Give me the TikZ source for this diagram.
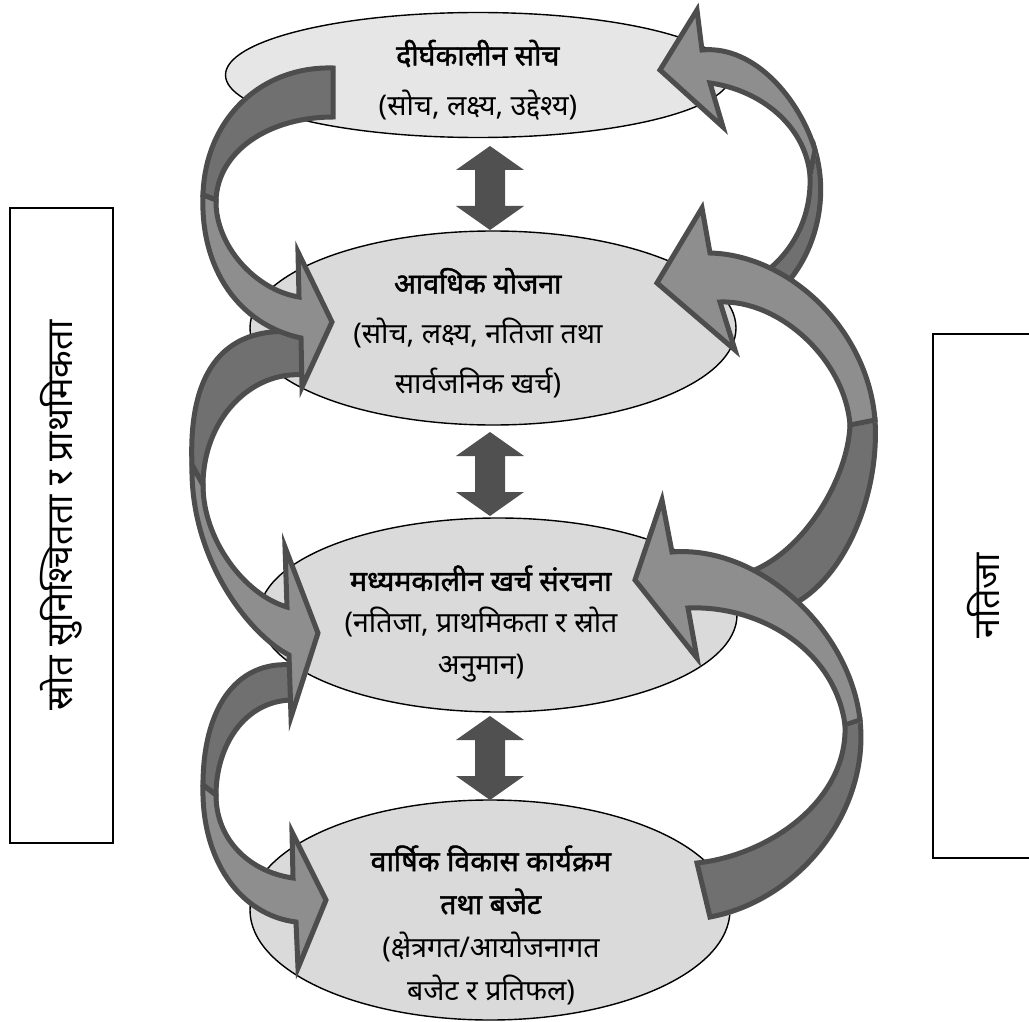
\documentclass[tikz,border=0pt]{standalone}
\usepackage{fontspec}
\newfontfamily\deva[Script=Devanagari, BoldFont={Noto Sans}, BoldFeatures={FakeBold=1.6}]{Noto Sans}
\usetikzlibrary{shapes.geometric,shadows}

\definecolor{topfill}{HTML}{E6E6E6}
\definecolor{ovalfill}{HTML}{DADADA}
\definecolor{ribbonlight}{HTML}{8E8E8E}
\definecolor{ribbondark}{HTML}{707070}
\definecolor{ribbonedge}{HTML}{4D4D4D}
\definecolor{linkgray}{HTML}{505050}

\tikzset{
  oval/.style={draw, ellipse, line width=1.4pt, fill=ovalfill, inner sep=0pt},
  caption/.style={font=\deva\fontsize{28.5}{50}\selectfont, align=center, inner sep=0pt},
  sidebox/.style={draw, line width=1.2pt, inner sep=0pt},
  sidetext/.style={font=\deva\fontsize{36}{40}\selectfont, rotate=90, inner sep=0pt},
  ribbon/.style={draw=ribbonedge, line width=5pt, line join=miter, miter limit=12,
    drop shadow={shadow xshift=2pt, shadow yshift=-2pt, fill=gray!55, opacity=1}},
  ribbonback/.style={ribbon, fill=ribbondark},
  ribbonfront/.style={ribbon, fill=ribbonlight}
}

% two way link between two levels
\newcommand{\updown}[1]{\fill[linkgray] (#1) -- ++(34,24) -- ++(-19,0) -- ++(0,36)
  -- ++(19,0) -- ++(-34,24) -- ++(-34,-24) -- ++(19,0) -- ++(0,-36) -- ++(-19,0) -- cycle;}

\begin{document}
\begin{tikzpicture}[x=1pt,y=-1pt]
\fill[white] (0,0) rectangle (1029,1022);
\useasboundingbox (0,0) rectangle (1029,1022);

% side boxes
\node[sidebox, minimum width=103pt, minimum height=635pt] (src) at (61.5,525.5) {};
\node[sidetext] (srctext) at ([yshift=10pt]src.center) {स्रोत सुनिश्चितता र प्राथमिकता};
\node[sidebox, minimum width=107pt, minimum height=524pt] (res) at (986.5,596) {};
\node[sidetext] (restext) at ([xshift=-3pt]res.center) {नतिजा};

% levels
\node[oval, fill=topfill, minimum width=505pt, minimum height=125pt] (e1) at (478,75) {};
\node[oval, minimum width=486pt, minimum height=194pt] (e2) at (493,328) {};
\node[oval, minimum width=478pt, minimum height=194pt] (e3) at (498,615) {};
\node[oval, minimum width=480pt, minimum height=220pt] (e4) at (490,910) {};

\node[caption] (c1) at (478,80) {\textbf{दीर्घकालीन सोच}\\(सोच, लक्ष्य, उद्देश्य)};
\node[caption] (c2) at (478,333) {\textbf{आवधिक योजना}\\(सोच, लक्ष्य, नतिजा तथा\\सार्वजनिक खर्च)};
\node[caption, font=\deva\fontsize{28.5}{42}\selectfont] (c3) at (481,624) {\textbf{मध्यमकालीन खर्च संरचना}\\(नतिजा, प्राथमिकता र स्रोत\\अनुमान)};
\node[caption, font=\deva\fontsize{28.5}{43}\selectfont] (c4) at (491,925) {\textbf{वार्षिक विकास कार्यक्रम}\\\textbf{तथा बजेट}\\(क्षेत्रगत/आयोजनागत\\बजेट र प्रतिफल)};

% links between levels
\coordinate (d1) at (490,146);
\coordinate (d2) at (490,432);
\coordinate (d3) at (490,716);
\updown{d1}
\updown{d2}
\updown{d3}

% left ribbons, going down
\coordinate (l1tip) at (332,322);
\coordinate (l2tip) at (318,633);
\coordinate (l3tip) at (326,900);
\filldraw[ribbonback] (293,665) .. controls (235,660) and (203,710) .. (203,785) -- (216,795)
  .. controls (216,745) and (245,700) .. (293,700) -- cycle;
\filldraw[ribbonfront] (203,785) .. controls (201,860) and (240,915) .. (296,922) -- (298,968)
  -- (l3tip) -- (292,832) -- (293,878) .. controls (250,872) and (216,840) .. (216,795) -- cycle;
\filldraw[ribbonback] (305,333) .. controls (225,322) and (188,370) .. (192,465) -- (203,485)
  .. controls (203,420) and (250,370) .. (305,375) -- cycle;
\filldraw[ribbonfront] (192,465) .. controls (190,560) and (250,635) .. (289,655) -- (291,717)
  -- (l2tip) -- (285,547) -- (287,607) .. controls (245,595) and (203,540) .. (203,485) -- cycle;
\filldraw[ribbonback] (333,68) .. controls (260,66) and (205,120) .. (203,195) -- (216,200)
  .. controls (218,150) and (270,117) .. (333,117) -- cycle;
\filldraw[ribbonfront] (203,195) .. controls (200,270) and (240,325) .. (301,338) -- (302,387)
  -- (l1tip) -- (298,252) -- (299,297) .. controls (255,290) and (215,245) .. (216,200) -- cycle;

% right ribbons, going up
\coordinate (r1tip) at (660,70);
\coordinate (r2tip) at (657,283);
\coordinate (r3tip) at (635,580);
\filldraw[ribbonback] (815,150) .. controls (830,200) and (815,260) .. (775,295) -- (745,285)
  .. controls (790,262) and (812,220) .. (810,175) -- cycle;
\filldraw[ribbonfront] (702,50) .. controls (755,45) and (800,100) .. (815,150) -- (810,175)
  .. controls (805,125) and (760,90) .. (710,83) -- (723,127) -- (r1tip) -- (697,10) -- cycle;
\filldraw[ribbonback] (875,420) .. controls (880,500) and (840,590) .. (780,610) -- (740,575)
  .. controls (800,560) and (848,480) .. (850,425) -- cycle;
\filldraw[ribbonfront] (710,253) .. controls (790,255) and (868,330) .. (875,420) -- (850,425)
  .. controls (845,360) and (780,300) .. (720,302) -- (735,350) -- (r2tip) -- (702,208) -- cycle;
\filldraw[ribbonback] (860,720) .. controls (870,810) and (800,900) .. (710,917) -- (697,863)
  .. controls (770,855) and (848,800) .. (845,725) -- cycle;
\filldraw[ribbonfront] (672,552) .. controls (760,545) and (850,630) .. (860,720) -- (845,725)
  .. controls (835,650) and (760,605) .. (688,608) -- (697,658) -- (r3tip) -- (662,500) -- cycle;
\end{tikzpicture}
\end{document}
